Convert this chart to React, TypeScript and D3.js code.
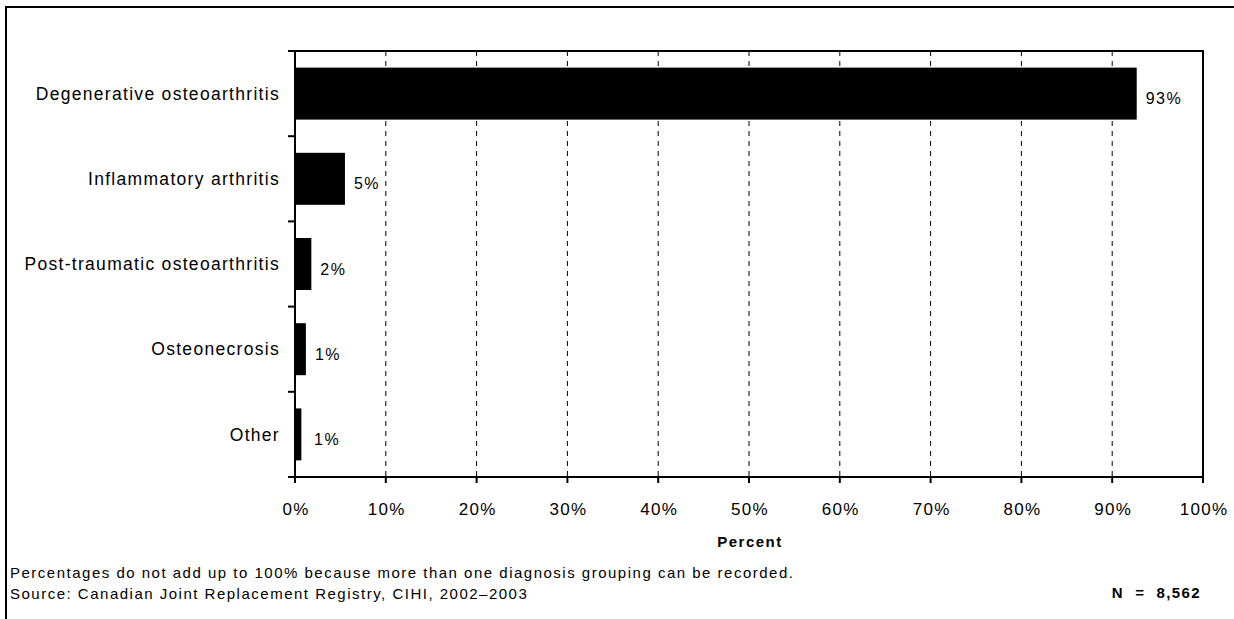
import React, { useEffect, useRef } from "react";
import * as d3 from "d3";

const categories = [
  "Degenerative osteoarthritis",
  "Inflammatory arthritis",
  "Post-traumatic osteoarthritis",
  "Osteonecrosis",
  "Other",
];
const values = [92.7, 5.5, 1.8, 1.2, 0.7];
const valueLabels = ["93%", "5%", "2%", "1%", "1%"];
const xTicks = [0, 10, 20, 30, 40, 50, 60, 70, 80, 90, 100];
const xTitle = "Percent";
const notes = [
  "Percentages do not add up to 100% because more than one diagnosis grouping can be recorded.",
  "Source: Canadian Joint Replacement Registry, CIHI, 2002\u20132003",
];
const nLabel = "N  =  8,562";

const W = 1234;
const H = 619;
const FONT = "'Liberation Sans', Arial, Helvetica, sans-serif";

export default function App() {
  const ref = useRef<SVGSVGElement | null>(null);
  useEffect(() => {
    const svg = d3.select(ref.current);
    svg.selectAll("*").remove();
    const m = { left: 295, right: 1203, top: 51, bottom: 477 };
    const x = d3.scaleLinear().domain([0, 100]).range([m.left, m.right]);
    const y = d3
      .scaleBand<string>()
      .domain(categories)
      .range([m.top, m.bottom])
      .paddingInner(0.39)
      .paddingOuter(0.195);
    const step = y.step();

    // outer frame
    svg.append("line").attr("x1", 5).attr("x2", W).attr("y1", 7).attr("y2", 7)
      .attr("stroke", "#000").attr("stroke-width", 2);
    svg.append("line").attr("x1", 6).attr("x2", 6).attr("y1", 6).attr("y2", H)
      .attr("stroke", "#000").attr("stroke-width", 2);

    // gridlines
    svg.append("g").selectAll("line")
      .data(xTicks.filter((t) => t > 0 && t < 100))
      .join("line")
      .attr("x1", (d) => x(d)).attr("x2", (d) => x(d))
      .attr("y1", m.top).attr("y2", m.bottom)
      .attr("stroke", "#000").attr("stroke-width", 1)
      .attr("stroke-dasharray", "5,5");

    // bars
    svg.append("g").selectAll("rect")
      .data(categories)
      .join("rect")
      .attr("x", x(0))
      .attr("y", (d) => y(d)!)
      .attr("width", (d, i) => x(values[i]) - x(0))
      .attr("height", y.bandwidth())
      .attr("fill", "#000");

    // plot frame
    svg.append("rect")
      .attr("x", m.left).attr("y", m.top)
      .attr("width", m.right - m.left).attr("height", m.bottom - m.top)
      .attr("fill", "none").attr("stroke", "#000").attr("stroke-width", 2);

    // y ticks (boundaries)
    const bounds = d3.range(categories.length + 1).map((i) => m.top + i * step);
    svg.append("g").selectAll("line")
      .data(bounds)
      .join("line")
      .attr("x1", m.left - 7).attr("x2", m.left)
      .attr("y1", (d) => d).attr("y2", (d) => d)
      .attr("stroke", "#000").attr("stroke-width", 2);

    // x ticks
    svg.append("g").selectAll("line")
      .data(xTicks)
      .join("line")
      .attr("x1", (d) => x(d)).attr("x2", (d) => x(d))
      .attr("y1", m.bottom).attr("y2", m.bottom + 6)
      .attr("stroke", "#000").attr("stroke-width", 2);

    // x tick labels
    svg.append("g").selectAll("text")
      .data(xTicks)
      .join("text")
      .attr("x", (d) => x(d) + 1)
      .attr("y", m.bottom + 38)
      .attr("text-anchor", "middle")
      .attr("font-family", FONT)
      .attr("font-size", 17)
      .attr("letter-spacing", 1.3)
      .text((d) => d + "%");

    // x title
    svg.append("text")
      .attr("x", (m.left + m.right) / 2 + 1)
      .attr("y", m.bottom + 70)
      .attr("text-anchor", "middle")
      .attr("font-family", FONT)
      .attr("font-size", 15)
      .attr("font-weight", "bold")
      .attr("letter-spacing", 1.5)
      .text(xTitle);

    // category labels
    svg.append("g").selectAll("text")
      .data(categories)
      .join("text")
      .attr("x", m.left - 15)
      .attr("y", (d) => y(d)! + y.bandwidth() / 2)
      .attr("dy", "0.35em")
      .attr("text-anchor", "end")
      .attr("font-family", FONT)
      .attr("font-size", 17.5)
      .attr("letter-spacing", 1.3)
      .text((d) => d);

    // value labels
    svg.append("g").selectAll("text")
      .data(categories)
      .join("text")
      .attr("x", (d, i) => Math.max(x(values[i]) + 9, x(0) + 19))
      .attr("y", (d) => y(d)! + y.bandwidth() / 2 + 5)
      .attr("dy", "0.35em")
      .attr("text-anchor", "start")
      .attr("font-family", FONT)
      .attr("font-size", 16)
      .attr("letter-spacing", 1.5)
      .text((d, i) => valueLabels[i]);

    // notes
    svg.append("g").selectAll("text")
      .data(notes)
      .join("text")
      .attr("x", 10)
      .attr("y", (d, i) => 578 + i * 21)
      .attr("font-family", FONT)
      .attr("font-size", 15)
      .attr("letter-spacing", 1.5)
      .text((d) => d);

    svg.append("text")
      .attr("x", 1201)
      .attr("y", 598)
      .attr("text-anchor", "end")
      .attr("font-family", FONT)
      .attr("font-size", 15)
      .attr("font-weight", "bold")
      .attr("letter-spacing", 1.4)
      .style("white-space", "pre")
      .text(nLabel);
  }, []);
  return (
    <svg
      ref={ref}
      width={W}
      height={H}
      style={{ position: "absolute", left: 0, top: 0, display: "block", background: "#fff" }}
    />
  );
}
